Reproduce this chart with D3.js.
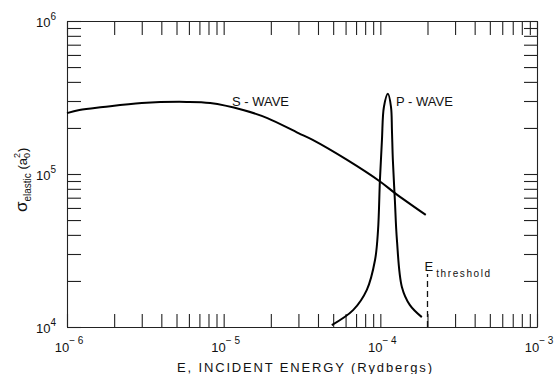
<!DOCTYPE html>
<html>
<head>
  <script src="https://d3js.org/d3.v7.min.js"></script>
  <style>
    body { margin: 0; background: #fff; }
    svg { font-family: "Liberation Sans", Arial, sans-serif; }
    .axis path, .axis line { stroke: #222; stroke-width: 1.1; }
    .curve { fill: none; stroke: #000; stroke-width: 2; stroke-linejoin: round; }
    text { fill: #111; }
  </style>
</head>
<body>
  <svg class="chart" width="556" height="374"></svg>
  <script>
    // energies in Rydbergs, cross sections in a0^2
    var sWaveE = [1e-6, 1.2e-6, 1.7e-6, 3e-6, 5.8e-6, 8.2e-6, 1.33e-5, 1.9e-5, 3e-5, 3.7e-5, 6.1e-5, 1e-4, 1.24e-4, 1.95e-4];
    var sWaveSigma = [2.5e5, 2.62e5, 2.74e5, 2.91e5, 2.96e5, 2.91e5, 2.62e5, 2.32e5, 1.85e5, 1.67e5, 1.24e5, 8.9e4, 7.5e4, 5.4e4];

    var pWaveE = [4.9e-5, 6.7e-5, 8.2e-5, 9.25e-5, 9.67e-5, 9.94e-5, 1.024e-4, 1.054e-4, 1.118e-4, 1.17e-4, 1.186e-4, 1.202e-4, 1.238e-4, 1.276e-4, 1.374e-4, 1.545e-4, 1.84e-4];
    var pWaveSigma = [1.03e4, 1.29e4, 1.75e4, 2.74e4, 4.31e4, 9.14e4, 1.67e5, 2.74e5, 3.34e5, 2.74e5, 1.94e5, 1.24e5, 6.76e4, 3.71e4, 1.82e4, 1.39e4, 1.16e4];

    var eThreshold = 2e-4;
    var xExponents = [-6, -5, -4, -3];
    var yExponents = [4, 5, 6];

    var margin = { top: 21, right: 19, bottom: 47, left: 67 };
    var width = 556 - margin.left - margin.right;
    var height = 374 - margin.top - margin.bottom;

    var svg = d3.select('.chart');
    var g = svg.append('g')
      .attr('transform', 'translate(' + margin.left + ',' + margin.top + ')');

    var xScale = d3.scaleLog().domain([1e-6, 1e-3]).range([0, width]);
    var yScale = d3.scaleLog().domain([1e4, 1e6]).range([height, 0]);

    // all ticks point inwards, on all four sides
    g.append('g').attr('class', 'axis')
      .attr('transform', 'translate(0,' + height + ')')
      .call(d3.axisBottom(xScale).tickValues(xScale.ticks()).tickSize(-13).tickSizeOuter(0).tickFormat(''));
    g.append('g').attr('class', 'axis')
      .call(d3.axisTop(xScale).tickValues(xScale.ticks()).tickSize(-14).tickSizeOuter(0).tickFormat(''));
    g.append('g').attr('class', 'axis')
      .call(d3.axisLeft(yScale).tickValues(yScale.ticks()).tickSize(-14).tickSizeOuter(0).tickFormat(''));
    g.append('g').attr('class', 'axis')
      .attr('transform', 'translate(' + width + ',0)')
      .call(d3.axisRight(yScale).tickValues(yScale.ticks()).tickSize(-13).tickSizeOuter(0).tickFormat(''));

    // power-of-ten labels
    var xLab = g.selectAll('.xlab')
      .data(xExponents)
      .enter()
      .append('text')
      .attr('class', 'xlab')
      .attr('x', function (d) { return xScale(Math.pow(10, d)) + 2; })
      .attr('y', height + 25)
      .attr('text-anchor', 'middle')
      .style('font-size', '13px');
    xLab.append('tspan').text('10');
    xLab.append('tspan').attr('dy', -8).style('font-size', '10px')
      .text(function (d) { return '\u2212 ' + (-d); });

    var yLab = g.selectAll('.ylab')
      .data(yExponents)
      .enter()
      .append('text')
      .attr('class', 'ylab')
      .attr('x', -11)
      .attr('y', function (d) { return yScale(Math.pow(10, d)) + 6; })
      .attr('text-anchor', 'end')
      .style('font-size', '13px');
    yLab.append('tspan').text('10');
    yLab.append('tspan').attr('dy', -7).style('font-size', '10px')
      .text(function (d) { return d; });

    // curves
    var line = d3.line()
      .x(function (d) { return xScale(d[0]); })
      .y(function (d) { return yScale(d[1]); })
      .curve(d3.curveCatmullRom.alpha(0.5));

    g.append('path').attr('class', 'curve')
      .attr('d', line(d3.zip(sWaveE, sWaveSigma)));
    g.append('path').attr('class', 'curve')
      .attr('d', line(d3.zip(pWaveE, pWaveSigma)));

    g.append('text')
      .attr('x', xScale(1.13e-5))
      .attr('y', yScale(2.78e5))
      .style('font-size', '13px')
      .text('S - WAVE');
    g.append('text')
      .attr('x', xScale(1.26e-4))
      .attr('y', yScale(2.78e5))
      .style('font-size', '13px')
      .text('P - WAVE');

    // threshold marker
    g.append('line')
      .attr('x1', xScale(eThreshold)).attr('x2', xScale(eThreshold))
      .attr('y1', height).attr('y2', yScale(2.22e4))
      .attr('stroke', '#111').attr('stroke-width', 1.3)
      .attr('stroke-dasharray', '6,4');
    var thr = g.append('text')
      .attr('x', xScale(eThreshold) - 3)
      .attr('y', yScale(2.33e4))
      .style('font-size', '13px');
    thr.append('tspan').text('E');
    thr.append('tspan').attr('dx', 3).attr('dy', 6).style('font-size', '10px')
      .attr('textLength', 54).attr('lengthAdjust', 'spacing')
      .text('threshold');

    // axis titles
    svg.append('text')
      .attr('x', 177)
      .attr('y', 372)
      .attr('textLength', 255)
      .attr('lengthAdjust', 'spacing')
      .style('font-size', '13px')
      .text('E, INCIDENT ENERGY (Rydbergs)');

    var yTitle = svg.append('text')
      .attr('transform', 'translate(27,212) rotate(-90)')
      .style('font-size', '13px');
    yTitle.append('tspan').style('font-size', '17px').text('\u03c3');
    yTitle.append('tspan').attr('dy', 4).style('font-size', '10px').text('elastic');
    yTitle.append('tspan').attr('dy', -4).text('  (a');
    yTitle.append('tspan').attr('dy', 3).style('font-size', '9px').text('0');
    yTitle.append('tspan').attr('dx', -5).attr('dy', -10).style('font-size', '9px').text('2');
    yTitle.append('tspan').attr('dx', 1).attr('dy', 7).text(')');
  </script>
</body>
</html>
